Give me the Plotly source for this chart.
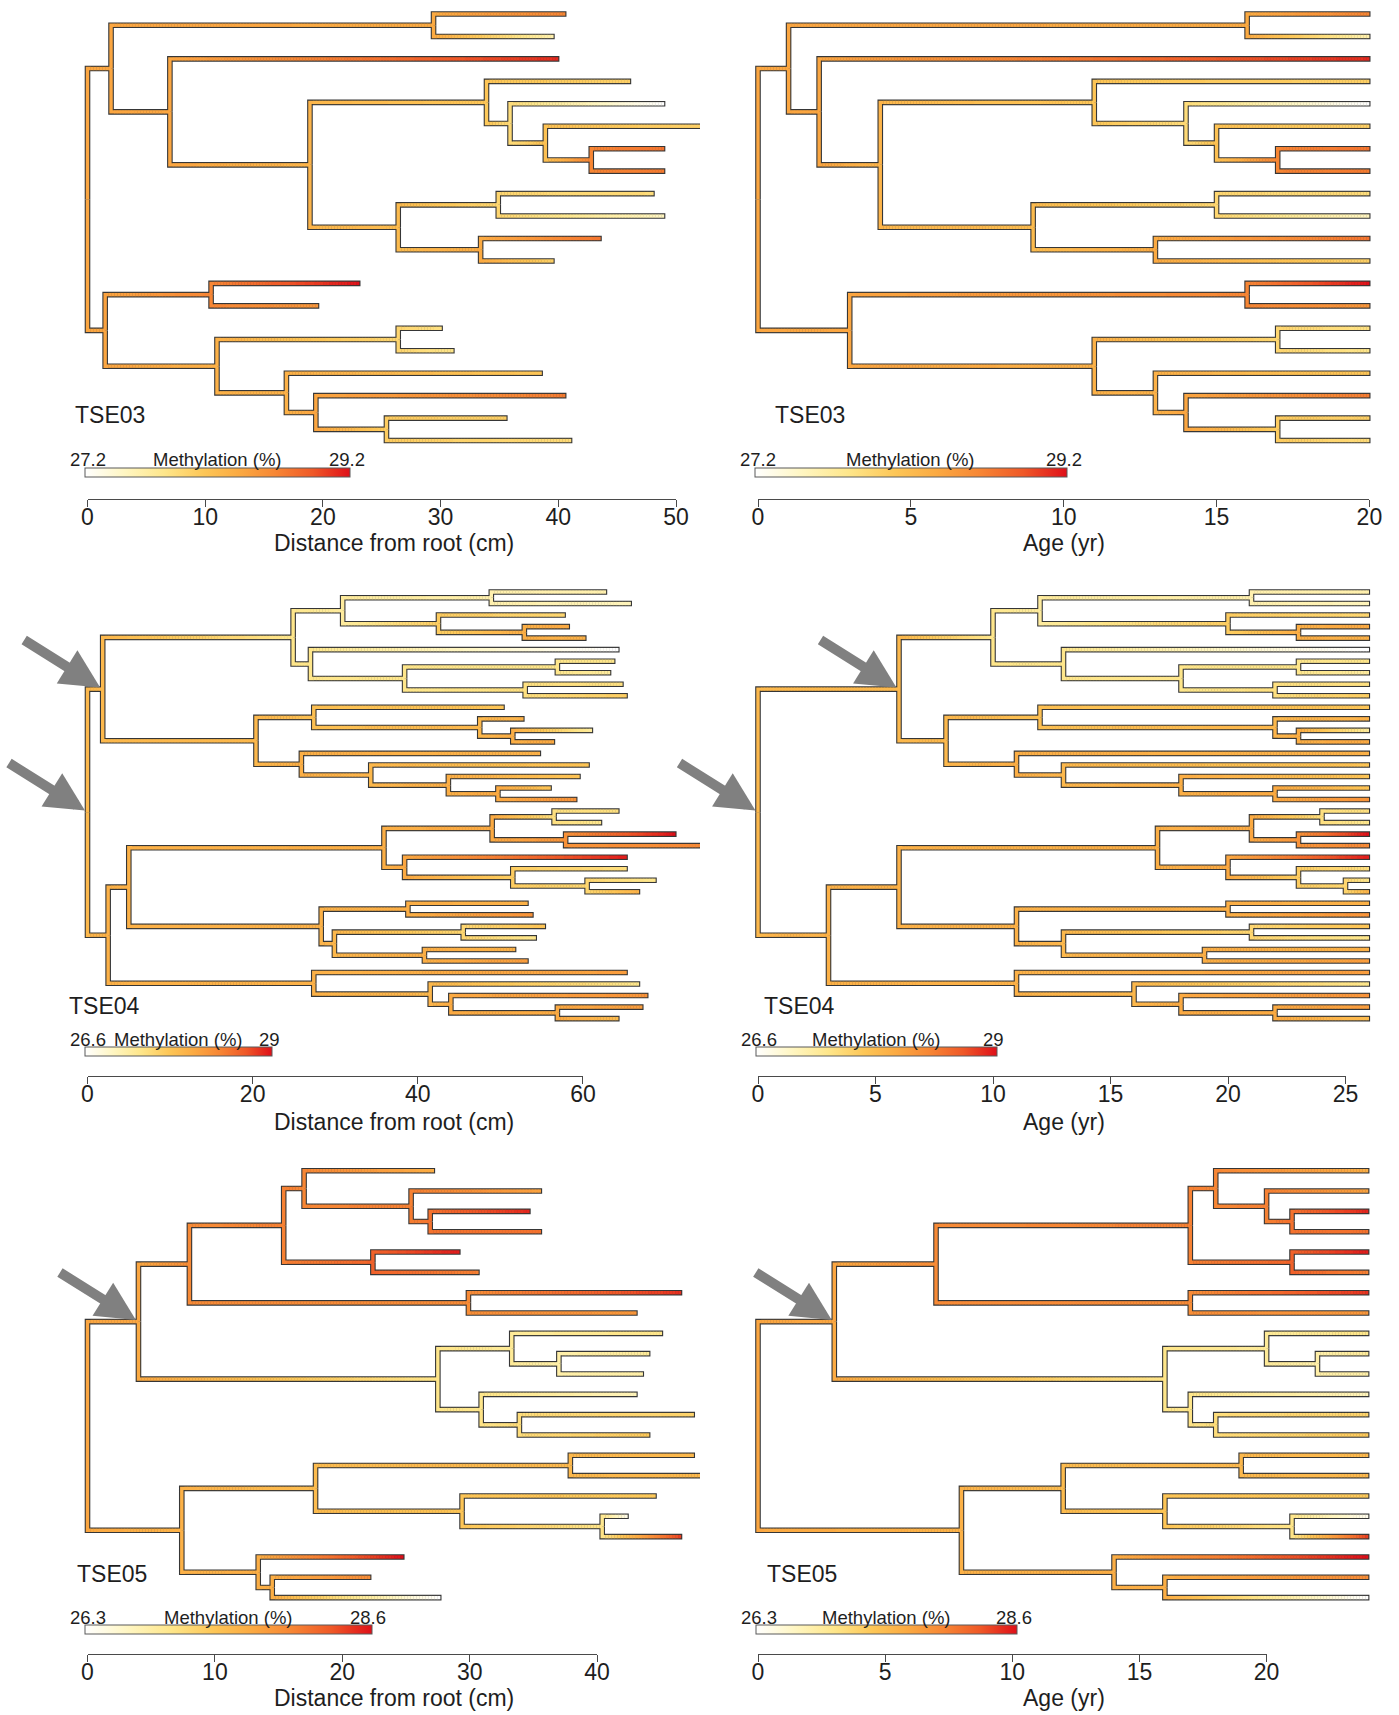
import plotly.graph_objects as go

W, H = 1399, 1715
FONT = "Liberation Sans, Arial, Helvetica, sans-serif"
INK = "#1e1e1e"
AXIS_COLOR = "#4a4a4a"

# ---------------------------------------------------------------------------
# Tree data. Nodes are listed in pre-order (children from top to bottom);
# parent -1 marks the root. dist = distance from root (cm), age = years,
# meth = methylation (%) at the node.
# ---------------------------------------------------------------------------
TSE03_parent = [-1, 0, 1, 2, 2, 1, 5, 5, 7, 8, 8, 10, 10, 12, 12, 14, 14, 7, 17, 18,
                18, 17, 21, 21, 0, 24, 25, 25, 24, 28, 29, 29, 28, 32, 32, 34, 34, 36, 36]
TSE03_dist = [0, 2.0, 29.4, 40.6, 39.6, 7.0, 40.0, 18.9, 33.9, 46.1, 35.9, 49.0, 38.9,
              52.1, 42.8, 49.0, 49.0, 26.4, 34.9, 48.1, 49.0, 33.4, 43.6, 39.6, 1.5,
              10.5, 23.1, 19.6, 11.0, 26.4, 30.1, 31.1, 16.9, 38.6, 19.4, 40.6, 25.4,
              35.6, 41.1]
TSE03_age = [0, 1, 16, 20, 20, 2, 20, 4, 11, 20, 14, 20, 15, 20, 17, 20, 20, 9, 15, 20,
             20, 13, 20, 20, 3, 16, 20, 20, 11, 17, 20, 20, 13, 20, 14, 20, 17, 20, 20]
TSE03_meth = [28.4, 28.4, 28.35, 28.65, 27.6, 28.4, 29.1, 28.25, 28.1, 28.0, 27.9, 27.2,
              28.15, 28.0, 28.65, 28.75, 28.7, 28.2, 27.95, 27.9, 27.5, 28.35, 28.75, 28.0,
              28.4, 28.64, 29.2, 28.5, 28.3, 27.95, 27.85, 27.8, 28.3, 28.1, 28.4,
              28.7, 28.05, 28.0, 27.9]
TSE03_range = (27.2, 29.2)

TSE04_parent = [-1, 0, 1, 2, 3, 4, 4, 3, 7, 7, 9, 9, 2, 12, 12, 14, 15, 15, 14, 18, 18,
                1, 21, 22, 22, 24, 24, 26, 26, 21, 29, 29, 31, 31, 33, 33, 35, 35, 0, 38,
                39, 40, 41, 42, 42, 41, 45, 45, 40, 48, 48, 50, 50, 52, 52, 39, 55, 56,
                56, 55, 59, 60, 60, 59, 63, 63, 38, 66, 66, 68, 68, 70, 70, 72, 72]
TSE04_dist = [0, 1.84, 24.9, 30.9, 48.9, 62.8, 65.8, 42.5, 57.8, 52.9, 58.3, 60.3, 27.0,
              64.3, 38.4, 56.9, 63.8, 63.3, 53.0, 64.8, 65.3, 20.4, 27.4, 50.4, 47.5,
              52.8, 51.5, 61.1, 56.5, 25.9, 54.8, 34.3, 60.7, 43.7, 59.6, 49.7, 56.1,
              59.2, 2.5, 5.0, 35.9, 49.0, 56.5, 64.3, 62.2, 57.9, 71.2, 74.3, 38.4, 65.3,
              51.5, 65.3, 60.5, 68.8, 66.8, 28.3, 38.8, 53.3, 53.9, 29.9, 45.5, 55.4,
              54.3, 40.8, 51.8, 53.3, 27.4, 65.3, 41.5, 66.8, 44.0, 67.8, 56.9, 67.2, 64.3]
TSE04_age = [0, 6, 10, 12, 21, 26, 26, 20, 26, 23, 26, 26, 13, 26, 18, 23, 26, 26, 22, 26,
             26, 8, 12, 26, 22, 26, 23, 26, 26, 11, 26, 13, 26, 18, 26, 22, 26, 26, 3, 6,
             17, 21, 24, 26, 26, 23, 26, 26, 20, 26, 23, 26, 25, 26, 26, 11, 20, 26, 26,
             13, 21, 26, 26, 19, 26, 26, 11, 26, 16, 26, 18, 26, 22, 26, 26]
TSE04_meth = [27.85, 27.85, 27.3, 27.2, 27.1, 27.1, 27.0, 27.6, 27.5, 27.95, 28.0, 27.9,
              27.3, 26.6, 27.3, 27.3, 27.3, 27.2, 27.4, 27.4, 27.6, 27.85, 27.75, 27.7,
              27.85, 27.9, 27.95, 27.2, 28.0, 27.95, 27.9, 27.85, 27.7, 27.95, 27.7, 28.0,
              27.7, 28.2, 27.9, 27.9, 27.95, 28.0, 27.4, 27.4, 27.3, 28.2, 29.0, 28.3,
              28.0, 28.95, 27.6, 27.4, 27.5, 27.3, 27.9, 27.9, 27.95, 27.9, 28.2, 27.85,
              27.5, 27.7, 27.3, 27.95, 27.9, 28.1, 27.9, 28.1, 27.85, 27.3, 28.0, 28.2,
              28.0, 28.1, 27.8]
TSE04_range = (26.6, 29.0)

TSE05_parent = [-1, 0, 1, 2, 3, 4, 4, 6, 6, 8, 8, 3, 11, 11, 2, 14, 14, 1, 17, 18, 18, 20,
                20, 17, 23, 23, 25, 25, 0, 28, 29, 30, 30, 29, 33, 33, 35, 35, 28, 38, 38,
                40, 40]
TSE05_dist = [0, 4.0, 8.0, 15.4, 17.0, 27.2, 25.4, 35.6, 26.9, 34.7, 35.6, 22.4, 29.2,
              30.7, 29.9, 46.6, 43.1, 27.5, 33.3, 45.1, 37.0, 44.1, 43.6, 30.9, 43.1,
              33.9, 47.6, 44.1, 7.4, 17.9, 37.9, 47.6, 48.1, 29.4, 44.6, 40.4, 42.4,
              46.6, 13.4, 24.8, 14.5, 22.2, 27.7]
TSE05_age = [0, 3, 7, 17, 18, 24, 20, 24, 21, 24, 24, 21, 24, 24, 17, 24, 24, 16, 20, 24,
             22, 24, 24, 17, 24, 18, 24, 24, 8, 12, 19, 24, 24, 16, 24, 21, 24, 24, 14,
             24, 16, 24, 24]
TSE05_meth = [27.65, 27.65, 27.9, 28.0, 27.95, 27.6, 28.0, 27.7, 28.1, 28.5, 28.1, 28.2,
              28.55, 28.0, 27.9, 28.45, 27.8, 27.0, 26.9, 27.0, 26.8, 26.9, 26.8, 27.0,
              26.7, 27.1, 27.2, 27.3, 27.55, 27.45, 27.5, 27.5, 27.5, 27.35, 27.3, 27.0,
              26.4, 28.4, 27.6, 28.6, 27.6, 27.9, 26.3]
TSE05_range = (26.3, 28.6)

# Nodes singled out with arrows
TSE04_marked = [0, 1]
TSE05_marked = [1]

TREES = {
    "TSE03": dict(parent=TSE03_parent, dist=TSE03_dist, age=TSE03_age,
                  meth=TSE03_meth, range=TSE03_range, marked=[]),
    "TSE04": dict(parent=TSE04_parent, dist=TSE04_dist, age=TSE04_age,
                  meth=TSE04_meth, range=TSE04_range, marked=TSE04_marked),
    "TSE05": dict(parent=TSE05_parent, dist=TSE05_dist, age=TSE05_age,
                  meth=TSE05_meth, range=TSE05_range, marked=TSE05_marked),
}

DIST_TITLE = "Distance from root (cm)"
AGE_TITLE = "Age (yr)"
DIST_TICKS = {"TSE03": [0, 10, 20, 30, 40, 50], "TSE04": [0, 20, 40, 60],
              "TSE05": [0, 10, 20, 30, 40]}
AGE_TICKS = {"TSE03": [0, 5, 10, 15, 20], "TSE04": [0, 5, 10, 15, 20, 25],
             "TSE05": [0, 5, 10, 15, 20]}

# white -> yellow -> orange -> red
HEAT = [(0.0, "#ffffff"), (0.15, "#fff6c2"), (0.3, "#fee68a"), (0.45, "#fdc656"),
        (0.58, "#fbaa42"), (0.72, "#f78634"), (0.86, "#ef5827"), (1.0, "#df0f19")]

# ---------------------------------------------------------------------------
# Page geometry (pixels)
# ---------------------------------------------------------------------------
ROWS = {
    "TSE03": dict(tip0=14.0, dy=22.45, band=(0, 455), line=499, cb=(469, 478),
                  label_y=415, title_y=543),
    "TSE04": dict(tip0=592.0, dy=11.53, band=(575, 1032), line=1076, cb=(1048, 1057),
                  label_y=1005.5, title_y=1122),
    "TSE05": dict(tip0=1170.7, dy=20.33, band=(1155, 1612), line=1654, cb=(1626, 1635),
                  label_y=1574, title_y=1698),
}
COLS = {
    "dist": dict(origin=87.5, span=(0, 700), title_x=394),
    "age": dict(origin=758.0, span=(700, 1399), title_x=1064),
}
PANEL_CFG = [
    ("TSE03", "dist", 11.77, (85.3, 350.0), 72.5),
    ("TSE03", "age", 30.57, (754.7, 1066.5), 773.0),
    ("TSE04", "dist", 8.258, (85.3, 272.5), 66.7),
    ("TSE04", "age", 23.5, (755.7, 996.5), 761.7),
    ("TSE05", "dist", 12.74, (85.0, 371.5), 74.7),
    ("TSE05", "age", 25.43, (756.0, 1017.0), 765.2),
]

OUTLINE_W = 5.6
FILL_W = 3.4
NB = 64


def hex_rgb(h):
    h = h.lstrip("#")
    return tuple(int(h[i:i + 2], 16) for i in (0, 2, 4))


def heat_color(t):
    t = min(max(t, 0.0), 1.0)
    for (t0, c0), (t1, c1) in zip(HEAT, HEAT[1:]):
        if t <= t1:
            f = (t - t0) / (t1 - t0)
            a, b = hex_rgb(c0), hex_rgb(c1)
            return "rgb(%d,%d,%d)" % tuple(round(a[i] + (b[i] - a[i]) * f) for i in range(3))
    return HEAT[-1][1]


def tree_coords(parent):
    n = len(parent)
    kids = [[] for _ in range(n)]
    for i, p in enumerate(parent):
        if p >= 0:
            kids[p].append(i)
    y = [0.0] * n
    t = 0
    for i in range(n):
        if not kids[i]:
            y[i] = float(t)
            t += 1
    for i in range(n - 1, -1, -1):
        if kids[i]:
            y[i] = (y[kids[i][0]] + y[kids[i][-1]]) / 2.0
    return kids, y


def px(x):
    return x / W


def py(y):
    return 1 - y / H


fig = go.Figure()
layout = {}
annotations = []

for k, (name, key, ppu, cbx, label_x) in enumerate(PANEL_CFG, start=1):
    tree = TREES[name]
    row = ROWS[name]
    col = COLS[key]
    xs = tree[key]
    parent, meth = tree["parent"], tree["meth"]
    vmin, vmax = tree["range"]
    assert len(parent) == len(xs) == len(meth)
    kids, ys = tree_coords(parent)
    xa, ya = "x%d" % k, "y%d" % k
    org = col["origin"]

    # --- branches: dark outline underneath, colour gradient on top ---
    cap = 1.1 / ppu
    seam = 0.35 / ppu
    ox, oy = [], []
    groups = {}
    for i in range(1, len(parent)):
        p = parent[i]
        x0, x1, y0, y1 = xs[p], xs[i], ys[p], ys[i]
        ox += [x0, x0, x1 + (cap if not kids[i] else 0.0), None]
        oy += [y0, y1, y1, None]
        m0, m1 = meth[p], meth[i]
        npc = max(1, int(round((x1 - x0) * ppu / 3.0)))
        for j in range(npc):
            a = x0 + (x1 - x0) * j / npc
            b = x0 + (x1 - x0) * (j + 1) / npc
            if j < npc - 1:
                b += seam
            v = m0 + (m1 - m0) * (j + 0.5) / npc
            q = int(round((v - vmin) / (vmax - vmin) * NB))
            q = min(max(q, 0), NB)
            gx, gy = groups.setdefault(q, ([], []))
            if j == 0:
                gx += [x0, x0, b, None]
                gy += [y0, y1, y1, None]
            else:
                gx += [a, b, None]
                gy += [y1, y1, None]

    fig.add_trace(go.Scatter(x=ox, y=oy, mode="lines", xaxis=xa, yaxis=ya,
                             line=dict(color="#363636", width=OUTLINE_W),
                             hoverinfo="skip", showlegend=False))
    for q in sorted(groups):
        gx, gy = groups[q]
        fig.add_trace(go.Scatter(x=gx, y=gy, mode="lines", xaxis=xa, yaxis=ya,
                                 line=dict(color=heat_color(q / NB), width=FILL_W),
                                 hoverinfo="skip", showlegend=False))

    c0, c1 = col["span"]
    b0, b1 = row["band"]
    tip0, dy = row["tip0"], row["dy"]
    layout["xaxis" if k == 1 else "xaxis%d" % k] = dict(
        domain=[px(c0), px(c1)], range=[(c0 - org) / ppu, (c1 - org) / ppu],
        visible=False, anchor=ya, fixedrange=True)
    layout["yaxis" if k == 1 else "yaxis%d" % k] = dict(
        domain=[py(b1), py(b0)], range=[(b1 - tip0) / dy, (b0 - tip0) / dy],
        visible=False, anchor=xa, fixedrange=True)

    # --- scale axis with ticks, plus colour key ---
    s = k + 6
    ticks = DIST_TICKS[name] if key == "dist" else AGE_TICKS[name]
    tmax = ticks[-1]
    line_y = row["line"]
    layout["xaxis%d" % s] = dict(
        domain=[px(org), px(org + tmax * ppu)], range=[0, tmax], anchor="y%d" % s,
        side="bottom", showline=True, linecolor=AXIS_COLOR, linewidth=1.2,
        ticks="outside", ticklen=7, tickwidth=1.2, tickcolor=AXIS_COLOR,
        tickvals=ticks, ticktext=[str(t) for t in ticks], ticklabelstandoff=-10,
        tickfont=dict(family=FONT, size=23, color=INK),
        showgrid=False, zeroline=False, fixedrange=True)
    layout["yaxis%d" % s] = dict(domain=[py(line_y), py(line_y) + 0.001], range=[0, 1],
                                 visible=False, anchor="x%d" % s, fixedrange=True)

    cb_top, cb_bot = row["cb"]
    fig.add_trace(go.Scatter(
        x=[0], y=[0], mode="markers", xaxis="x%d" % s, yaxis="y%d" % s,
        hoverinfo="skip", showlegend=False,
        marker=dict(size=1, opacity=0, color=[vmin], cmin=vmin, cmax=vmax,
                    colorscale=[[t, c] for t, c in HEAT], showscale=True,
                    colorbar=dict(orientation="h", lenmode="pixels", len=cbx[1] - cbx[0],
                                  thicknessmode="pixels", thickness=cb_bot - cb_top,
                                  x=px(cbx[0]), xanchor="left", y=py(cb_bot),
                                  yanchor="bottom", xpad=0, ypad=0,
                                  outlinewidth=1, outlinecolor="#5a5a5a",
                                  showticklabels=False, ticks=""))))

    lab_y = py(cb_top - 9)
    for x_, txt in ((cbx[0] + 3, "%g" % vmin), ((cbx[0] + cbx[1]) / 2, "Methylation (%)"),
                    (cbx[1] - 3, "%g" % vmax)):
        annotations.append(dict(x=px(x_), y=lab_y, xref="paper", yref="paper", text=txt,
                                showarrow=False, xanchor="center", yanchor="middle",
                                font=dict(family=FONT, size=18.5, color=INK)))

    annotations.append(dict(x=px(label_x), y=py(row["label_y"]), xref="paper", yref="paper",
                            text=name, showarrow=False, xanchor="left", yanchor="middle",
                            font=dict(family=FONT, size=23, color=INK)))
    annotations.append(dict(x=px(col["title_x"]), y=py(row["title_y"]), xref="paper",
                            yref="paper", text=DIST_TITLE if key == "dist" else AGE_TITLE,
                            showarrow=False, xanchor="center", yanchor="middle",
                            font=dict(family=FONT, size=23, color=INK)))

    for node in tree["marked"]:
        annotations.append(dict(x=xs[node], y=ys[node], xref=xa, yref=ya, text="",
                                showarrow=True, arrowhead=2, arrowsize=0.78, arrowwidth=10,
                                arrowcolor="#808080", ax=-80, ay=-50, standoff=3))

fig.update_layout(
    width=W, height=H, autosize=False,
    margin=dict(l=0, r=0, t=0, b=0, pad=0, autoexpand=False),
    paper_bgcolor="white", plot_bgcolor="rgba(0,0,0,0)",
    showlegend=False, annotations=annotations,
    font=dict(family=FONT, color=INK),
    **layout,
)

fig.write_html("out.html")
